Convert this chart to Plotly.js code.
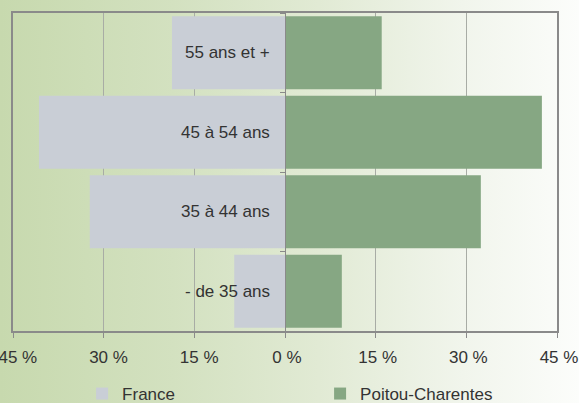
<!DOCTYPE html>
<html>
<head>
<meta charset="utf-8">
<script src="https://cdn.plot.ly/plotly-3.0.1.min.js"></script>
<style>
  html, body { margin:0; padding:0; }
  #chart { width:579px; height:403px;
    background: linear-gradient(to right, #c7d9ae 0%, #d3e1c0 30%, #e1ead4 55%, #f1f5ec 80%, #fcfdfb 100%); }
</style>
</head>
<body>
<div id="chart"></div>
<script>
const categories = ["- de 35 ans", "35 à 44 ans", "45 à 54 ans", "55 ans et +"];
const france = [8.4, 32.3, 40.7, 18.7];
const poitou = [9.4, 32.4, 42.5, 16.0];
const tickValues = [-45, -30, -15, 0, 15, 30, 45];
const tickLabels = ["45 %", "30 %", "15 %", "0 %", "15 %", "30 %", "45 %"];

const textColor = "#333333";
const fontFam = "Liberation Sans, Arial, sans-serif";

const traces = [
  { type: "bar", orientation: "h", name: "France",
    y: categories, x: france.map(v => -v),
    marker: { color: "#c9ced6" }, hoverinfo: "skip" },
  { type: "bar", orientation: "h", name: "Poitou-Charentes",
    y: categories, x: poitou,
    marker: { color: "#86a783" }, hoverinfo: "skip" },
  { type: "scatter", x: [], y: [], yaxis: "y2", showlegend: false, hoverinfo: "skip" }
];

const annotations = categories.map(c => ({
  x: 0, y: c, xref: "x", yref: "y", text: c, showarrow: false,
  xanchor: "right", xshift: -13, font: { size: 17, color: textColor, family: fontFam }
}));

// negative-side labels carry a hidden minus sign (as in the source), which offsets them slightly
const shownTicks = tickLabels.map((t, i) =>
  tickValues[i] < 0 ? '<span style="color:rgba(0,0,0,0)">-</span>' + t : t);

const layout = {
  width: 579, height: 403,
  margin: { l: 13, r: 22, t: 13, b: 72, autoexpand: false },
  paper_bgcolor: "rgba(0,0,0,0)",
  plot_bgcolor: "rgba(0,0,0,0)",
  barmode: "relative",
  bargap: 0.08,
  showlegend: true,
  legend: { orientation: "h", x: 0.127, xanchor: "left", xref: "paper",
    y: 1 - 376 / 403, yanchor: "top", yref: "container",
    entrywidth: 193, entrywidthmode: "pixels",
    font: { size: 17, color: textColor, family: fontFam }, traceorder: "normal",
    bgcolor: "rgba(0,0,0,0)" },
  xaxis: {
    range: [-45, 45], tickvals: tickValues, ticktext: shownTicks,
    ticklabeloverflow: "allow", ticklabelshift: 2, ticklabelstandoff: 5,
    showgrid: true, gridcolor: "#a8aca5", gridwidth: 1,
    zeroline: false,
    showline: true, linecolor: "#8a8a8a", linewidth: 2, mirror: true,
    ticks: "outside", ticklen: 5, tickcolor: "#8a8a8a", tickwidth: 1,
    tickfont: { size: 17, color: textColor, family: fontFam },
    fixedrange: true, automargin: false
  },
  yaxis: {
    range: [-0.5, 3.5], showticklabels: false, showgrid: false, zeroline: false,
    showline: true, linecolor: "#8a8a8a", linewidth: 2, mirror: true,
    ticks: "", fixedrange: true, automargin: false
  },
  yaxis2: {
    overlaying: "y", anchor: "free", position: 0.5, side: "left",
    range: [-0.5, 3.5], tickvals: [-0.5, 0.5, 1.5, 2.5, 3.5],
    showticklabels: false, showgrid: false, zeroline: false,
    showline: true, linecolor: "#8a8a8a", linewidth: 1,
    ticks: "outside", ticklen: 5, tickcolor: "#8a8a8a", fixedrange: true, automargin: false
  },
  annotations: annotations
};

Plotly.newPlot("chart", traces, layout, { displayModeBar: false, staticPlot: true });
</script>
</body>
</html>
